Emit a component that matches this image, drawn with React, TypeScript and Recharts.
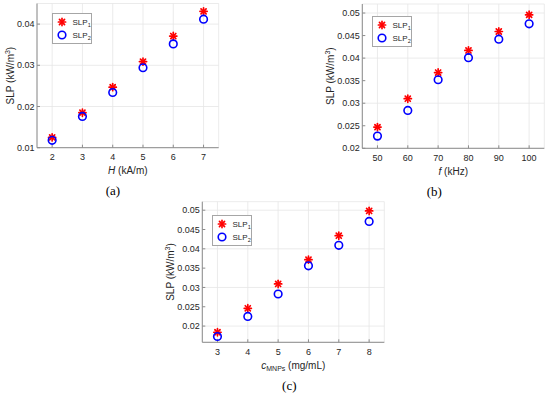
import React from "react";
import { ScatterChart, Scatter, XAxis, YAxis, CartesianGrid, Legend, Label } from "recharts";

const FONT = "'Liberation Sans', Arial, Helvetica, sans-serif";
const SERIF = "'Liberation Serif', 'Times New Roman', serif";
const TXT = "#262626";
const AXIS = "#8c8c8c";
const GRID = "#e6e6e6";
const RED = "#ff0000";
const BLUE = "#0000ff";

// (a) field amplitude H (kA/m)
const fieldH = [2, 3, 4, 5, 6, 7];
const fieldSlp1 = [0.0125, 0.0185, 0.0247, 0.0309, 0.0371, 0.0431];
const fieldSlp2 = [0.0118, 0.0176, 0.0234, 0.0294, 0.0352, 0.0412];
const fieldYTicks = [0.01, 0.02, 0.03, 0.04];
const fieldYLabels = ["0.01", "0.02", "0.03", "0.04"];

// (b) frequency f (kHz)
const freqF = [50, 60, 70, 80, 90, 100];
const freqSlp1 = [0.0247, 0.031, 0.0368, 0.0417, 0.0459, 0.0496];
const freqSlp2 = [0.0227, 0.0284, 0.0352, 0.0401, 0.0442, 0.0476];
const freqYTicks = [0.02, 0.025, 0.03, 0.035, 0.04, 0.045, 0.05];
const freqYLabels = ["0.02", "0.025", "0.03", "0.035", "0.04", "0.045", "0.05"];

// (c) concentration c_MNPs (mg/mL)
const concC = [3, 4, 5, 6, 7, 8];
const concSlp1 = [0.0184, 0.0246, 0.0309, 0.0372, 0.0434, 0.0498];
const concSlp2 = [0.0173, 0.0225, 0.0283, 0.0356, 0.0409, 0.0471];
const concYTicks = [0.02, 0.025, 0.03, 0.035, 0.04, 0.045, 0.05];
const concYLabels = ["0.02", "0.025", "0.03", "0.035", "0.04", "0.045", "0.05"];

const Asterisk = (props: any) => {
  const { cx, cy } = props;
  const r = 3.6;
  const d = r * 0.7071;
  return (
    <g stroke={RED} strokeWidth={1.7} strokeLinecap="round">
      <line x1={cx - r} y1={cy} x2={cx + r} y2={cy} />
      <line x1={cx} y1={cy - r} x2={cx} y2={cy + r} />
      <line x1={cx - d} y1={cy - d} x2={cx + d} y2={cy + d} />
      <line x1={cx - d} y1={cy + d} x2={cx + d} y2={cy - d} />
    </g>
  );
};

const Ring = (props: any) => (
  <circle cx={props.cx} cy={props.cy} r={3.8} fill="none" stroke={BLUE} strokeWidth={1.6} />
);

const LegendBox = () => (
  <svg width={40} height={31} style={{ display: "block" }}>
    <rect x={0.5} y={0.5} width={39} height={30} fill="#fff" stroke="#a6a6a6" strokeWidth={1} />
    <Asterisk cx={10} cy={9} />
    <Ring cx={10} cy={22} />
    <text x={20.5} y={11.8} fontSize={8} fontFamily={FONT} fill={TXT}>
      SLP<tspan fontSize={5.5} dy={2}>1</tspan>
    </text>
    <text x={20.5} y={24.8} fontSize={8} fontFamily={FONT} fill={TXT}>
      SLP<tspan fontSize={5.5} dy={2}>2</tspan>
    </text>
  </svg>
);

type PanelCfg = {
  left: number;
  top: number;
  width: number;
  height: number;
  plot: { l: number; t: number; r: number; b: number };
  xs: number[];
  s1: number[];
  s2: number[];
  xDomain: [number, number];
  yDomain: [number, number];
  yTicks: number[];
  yLabels: string[];
  legend: { x: number; y: number };
  xTitle: React.ReactNode;
  caption: string;
  captionDx: number;
  yTitleX: number;
};

function Panel({ cfg }: { cfg: PanelCfg }) {
  const { plot } = cfg;
  const pts1 = cfg.xs.map((x, i) => ({ x, y: cfg.s1[i] }));
  const pts2 = cfg.xs.map((x, i) => ({ x, y: cfg.s2[i] }));
  const fmtY = (v: number) => {
    const i = cfg.yTicks.indexOf(v);
    return i >= 0 ? cfg.yLabels[i] : String(v);
  };
  const tickStyle = { fontSize: 9, fill: TXT, fontFamily: FONT };

  const xLabel = (props: any) => {
    const vb = props.viewBox;
    const cx = vb.x + vb.width / 2;
    return (
      <g>
        <text x={cx} y={vb.y + 26.5} textAnchor="middle" fontSize={10} fontFamily={FONT} fill={TXT}>
          {cfg.xTitle}
        </text>
        <text x={cx + cfg.captionDx} y={vb.y + 47.5} textAnchor="middle" fontSize={13} fontFamily={SERIF} fill="#000">
          {cfg.caption}
        </text>
      </g>
    );
  };

  const yLabel = (props: any) => {
    const vb = props.viewBox;
    const cy = vb.y + vb.height / 2;
    const x = cfg.yTitleX;
    return (
      <text x={x} y={cy} transform={`rotate(-90, ${x}, ${cy})`} textAnchor="middle" fontSize={10} fontFamily={FONT} fill={TXT}>
        SLP (kW/m<tspan fontSize={7} dy={-4}>3</tspan>
        <tspan dy={4}>)</tspan>
      </text>
    );
  };

  return (
    <div style={{ position: "absolute", left: cfg.left, top: cfg.top }}>
      <ScatterChart
        width={cfg.width}
        height={cfg.height}
        margin={{ top: plot.t, right: cfg.width - plot.r, bottom: 0, left: 0 }}
      >
        <CartesianGrid stroke={GRID} strokeWidth={0.8} />
        <XAxis
          type="number"
          dataKey="x"
          domain={cfg.xDomain}
          ticks={cfg.xs}
          allowDataOverflow
          height={cfg.height - plot.b}
          stroke={AXIS}
          tickSize={-3}
          tickMargin={9}
          tick={tickStyle}
        >
          <Label content={xLabel} />
        </XAxis>
        <YAxis
          type="number"
          dataKey="y"
          domain={cfg.yDomain}
          ticks={cfg.yTicks}
          tickFormatter={fmtY}
          allowDataOverflow
          width={plot.l}
          stroke={AXIS}
          tickSize={-3}
          tickMargin={5.5}
          tick={tickStyle}
        >
          <Label content={yLabel} />
        </YAxis>
        <XAxis
          xAxisId="top"
          orientation="top"
          type="number"
          domain={cfg.xDomain}
          ticks={cfg.xs}
          allowDataOverflow
          height={0}
          stroke={AXIS}
          tickSize={-3}
          tick={false}
        />
        <YAxis
          yAxisId="right"
          orientation="right"
          type="number"
          domain={cfg.yDomain}
          ticks={cfg.yTicks}
          allowDataOverflow
          width={0}
          stroke={AXIS}
          tickSize={-3}
          tick={false}
        />
        <Legend
          layout="horizontal"
          verticalAlign="middle"
          align="center"
          content={() => <LegendBox />}
          wrapperStyle={{ position: "absolute", left: cfg.legend.x, top: cfg.legend.y, width: 40, height: 31 }}
        />
        <Scatter name="SLP1" data={pts1} shape={Asterisk} isAnimationActive={false} />
        <Scatter name="SLP2" data={pts2} shape={Ring} isAnimationActive={false} />
      </ScatterChart>
    </div>
  );
}

const panelA: PanelCfg = {
  left: 0,
  top: 0,
  width: 275,
  height: 200,
  plot: { l: 37, t: 3.5, r: 218.7, b: 147.7 },
  xs: fieldH,
  s1: fieldSlp1,
  s2: fieldSlp2,
  xDomain: [1.5, 7.5],
  yDomain: [0.01, 0.045],
  yTicks: fieldYTicks,
  yLabels: fieldYLabels,
  legend: { x: 51.7, y: 13.3 },
  xTitle: (
    <>
      <tspan fontStyle="italic">H</tspan> (kA/m)
    </>
  ),
  caption: "(a)",
  captionDx: -15,
  yTitleX: 14,
};

const panelB: PanelCfg = {
  left: 275,
  top: 0,
  width: 275,
  height: 200,
  plot: { l: 87.3, t: 4, r: 269.3, b: 148.3 },
  xs: freqF,
  s1: freqSlp1,
  s2: freqSlp2,
  xDomain: [45, 105],
  yDomain: [0.02, 0.052],
  yTicks: freqYTicks,
  yLabels: freqYLabels,
  legend: { x: 96.7, y: 15.7 },
  xTitle: (
    <>
      <tspan fontStyle="italic">f</tspan> (kHz)
    </>
  ),
  caption: "(b)",
  captionDx: -19,
  yTitleX: 59,
};

const panelC: PanelCfg = {
  left: 130,
  top: 195,
  width: 280,
  height: 202,
  plot: { l: 72.3, t: 6.7, r: 254.3, b: 147.3 },
  xs: concC,
  s1: concSlp1,
  s2: concSlp2,
  xDomain: [2.5, 8.5],
  yDomain: [0.0158, 0.0522],
  yTicks: concYTicks,
  yLabels: concYLabels,
  legend: { x: 82.3, y: 20 },
  xTitle: (
    <>
      <tspan fontStyle="italic">c</tspan>
      <tspan fontSize={7} dy={2.5}>MNPs</tspan>
      <tspan dy={-2.5}> (mg/mL)</tspan>
    </>
  ),
  caption: "(c)",
  captionDx: -4,
  yTitleX: 43.6,
};

export default function App() {
  return (
    <div style={{ position: "absolute", left: 0, top: 0, width: 550, height: 397, background: "#fff", overflow: "hidden" }}>
      <Panel cfg={panelA} />
      <Panel cfg={panelB} />
      <Panel cfg={panelC} />
    </div>
  );
}
